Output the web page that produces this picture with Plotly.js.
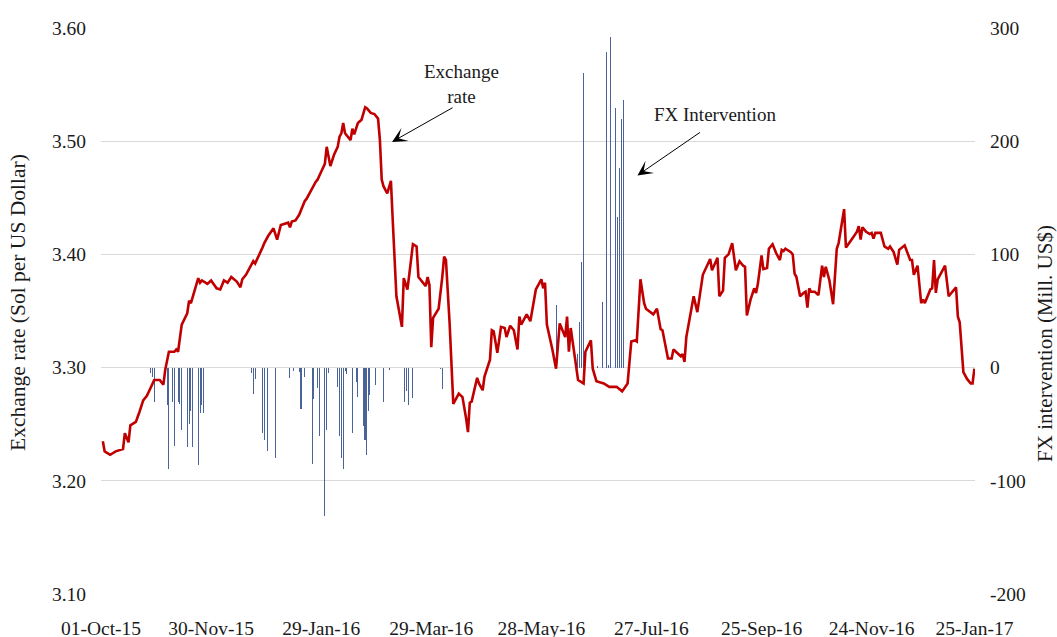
<!DOCTYPE html>
<html>
<head>
<meta charset="utf-8">
<script src="https://cdn.plot.ly/plotly-3.0.1.min.js"></script>
<style>
html,body{margin:0;padding:0;background:#fff;}
#chart{width:1057px;height:637px;}
</style>
</head>
<body>
<div id="chart"></div>
<script>
// Exchange rate (Sol per US Dollar)
var rateDates = [
"2015-10-02","2015-10-03","2015-10-06","2015-10-09","2015-10-13","2015-10-14","2015-10-16","2015-10-17","2015-10-20","2015-10-22",
"2015-10-24","2015-10-26","2015-10-28","2015-10-30","2015-11-02","2015-11-04","2015-11-05","2015-11-07","2015-11-10","2015-11-11",
"2015-11-12","2015-11-14","2015-11-17","2015-11-18","2015-11-19","2015-11-23","2015-11-24","2015-11-25","2015-11-28","2015-11-30",
"2015-12-03","2015-12-05","2015-12-07","2015-12-09","2015-12-11","2015-12-14","2015-12-16","2015-12-17","2015-12-19","2015-12-23",
"2015-12-24","2015-12-28","2015-12-29","2015-12-31","2016-01-03","2016-01-05","2016-01-07","2016-01-11","2016-01-12","2016-01-13",
"2016-01-15","2016-01-17","2016-01-20","2016-01-21","2016-01-26","2016-01-27","2016-01-29","2016-01-31","2016-02-01","2016-02-03",
"2016-02-05","2016-02-07","2016-02-08","2016-02-09","2016-02-10","2016-02-11","2016-02-14","2016-02-15","2016-02-16","2016-02-18",
"2016-02-20","2016-02-22","2016-02-23","2016-02-25","2016-02-27","2016-02-29","2016-03-01","2016-03-02","2016-03-03","2016-03-05",
"2016-03-07","2016-03-08","2016-03-10","2016-03-13","2016-03-14","2016-03-16","2016-03-17","2016-03-19","2016-03-21","2016-03-22",
"2016-03-26","2016-03-27","2016-03-28","2016-03-29","2016-03-30","2016-04-02","2016-04-04","2016-04-05","2016-04-06","2016-04-08",
"2016-04-10","2016-04-13","2016-04-15","2016-04-17","2016-04-18","2016-04-19","2016-04-20","2016-04-23","2016-04-24","2016-04-26",
"2016-04-27","2016-04-30","2016-05-01","2016-05-02","2016-05-04","2016-05-06","2016-05-08","2016-05-09","2016-05-11","2016-05-13",
"2016-05-15","2016-05-16","2016-05-17","2016-05-20","2016-05-22","2016-05-25","2016-05-28","2016-05-29","2016-05-30","2016-05-31",
"2016-06-03","2016-06-05","2016-06-07","2016-06-10","2016-06-11","2016-06-12","2016-06-13","2016-06-17","2016-06-20","2016-06-21",
"2016-06-24","2016-06-25","2016-06-27","2016-07-01","2016-07-04","2016-07-08","2016-07-11","2016-07-14","2016-07-16","2016-07-18",
"2016-07-19","2016-07-21","2016-07-23","2016-07-24","2016-07-28","2016-07-30","2016-08-01","2016-08-02","2016-08-05","2016-08-07",
"2016-08-08","2016-08-12","2016-08-13","2016-08-14","2016-08-15","2016-08-19","2016-08-21","2016-08-24","2016-08-28","2016-08-29",
"2016-09-01","2016-09-02","2016-09-04","2016-09-05","2016-09-07","2016-09-09","2016-09-11","2016-09-13","2016-09-15","2016-09-16",
"2016-09-17","2016-09-19","2016-09-21","2016-09-22","2016-09-23","2016-09-25","2016-09-26","2016-09-28","2016-09-29","2016-10-01",
"2016-10-03","2016-10-05","2016-10-06","2016-10-07","2016-10-08","2016-10-11","2016-10-12","2016-10-13","2016-10-14","2016-10-16",
"2016-10-18","2016-10-19","2016-10-20","2016-10-21","2016-10-22","2016-10-24","2016-10-26","2016-10-28","2016-10-29","2016-10-30",
"2016-11-01","2016-11-03","2016-11-05","2016-11-06","2016-11-09","2016-11-10","2016-11-13","2016-11-16","2016-11-17","2016-11-18",
"2016-11-19","2016-11-21","2016-11-23","2016-11-24","2016-11-25","2016-11-26","2016-11-29","2016-12-01","2016-12-03","2016-12-04",
"2016-12-06","2016-12-08","2016-12-09","2016-12-12","2016-12-15","2016-12-16","2016-12-17","2016-12-19","2016-12-21","2016-12-22",
"2016-12-23","2016-12-26","2016-12-27","2016-12-28","2016-12-29","2016-12-30","2017-01-03","2017-01-05","2017-01-09","2017-01-10",
"2017-01-11","2017-01-13","2017-01-15","2017-01-17","2017-01-18","2017-01-19"
];
var rateValues = [
3.235,3.226,3.223,3.226,3.228,3.242,3.234,3.249,3.252,3.261,
3.271,3.275,3.282,3.289,3.289,3.285,3.298,3.314,3.314,3.316,
3.314,3.338,3.348,3.359,3.357,3.379,3.375,3.377,3.374,3.377,
3.370,3.369,3.377,3.375,3.380,3.376,3.371,3.378,3.382,3.394,
3.392,3.406,3.410,3.416,3.423,3.413,3.426,3.428,3.424,3.429,
3.430,3.435,3.447,3.449,3.464,3.466,3.473,3.480,3.495,3.478,
3.488,3.495,3.504,3.507,3.516,3.507,3.501,3.511,3.506,3.516,
3.519,3.530,3.529,3.525,3.524,3.520,3.501,3.466,3.460,3.454,
3.465,3.430,3.363,3.336,3.379,3.369,3.382,3.409,3.407,3.380,
3.372,3.380,3.373,3.318,3.344,3.352,3.380,3.398,3.395,3.339,
3.268,3.277,3.274,3.255,3.243,3.269,3.270,3.291,3.286,3.280,
3.292,3.307,3.333,3.332,3.313,3.336,3.335,3.327,3.337,3.333,
3.316,3.345,3.338,3.347,3.341,3.369,3.378,3.370,3.375,3.338,
3.316,3.299,3.339,3.327,3.345,3.314,3.335,3.289,3.286,3.314,
3.324,3.299,3.288,3.286,3.283,3.283,3.279,3.286,3.323,3.324,
3.323,3.378,3.357,3.352,3.347,3.352,3.334,3.333,3.308,3.308,
3.316,3.310,3.312,3.305,3.327,3.363,3.349,3.382,3.396,3.386,
3.397,3.363,3.368,3.397,3.400,3.410,3.386,3.394,3.390,3.389,
3.346,3.360,3.370,3.366,3.374,3.399,3.387,3.388,3.405,3.409,
3.401,3.395,3.404,3.403,3.405,3.402,3.400,3.383,3.380,3.363,
3.366,3.367,3.353,3.370,3.367,3.367,3.364,3.390,3.380,3.389,
3.377,3.356,3.405,3.410,3.440,3.406,3.413,3.420,3.425,3.413,
3.424,3.420,3.418,3.419,3.414,3.419,3.419,3.407,3.405,3.407,
3.402,3.391,3.404,3.408,3.395,3.395,3.382,3.390,3.357,3.360,
3.357,3.369,3.370,3.395,3.366,3.378,3.390,3.363,3.371,3.345,
3.340,3.296,3.290,3.286,3.286,3.299
];

// FX intervention (Mill. US$)
var fxDates = [
"2015-10-28","2015-10-29","2015-10-30","2015-11-06","2015-11-07","2015-11-09","2015-11-10","2015-11-12","2015-11-13","2015-11-14",
"2015-11-17","2015-11-18","2015-11-19","2015-11-20","2015-11-23","2015-11-24","2015-11-25","2015-11-26",
"2015-12-22","2015-12-23","2015-12-24","2015-12-28","2015-12-29","2015-12-31","2016-01-04","2016-01-12","2016-01-14","2016-01-17",
"2016-01-18","2016-01-20","2016-01-24","2016-01-25","2016-01-27","2016-01-28","2016-01-31","2016-02-01","2016-02-02","2016-02-07",
"2016-02-08","2016-02-09","2016-02-10","2016-02-11","2016-02-12","2016-02-15","2016-02-17","2016-02-18","2016-02-21 00:00","2016-02-21 12:00",
"2016-02-22 06:00","2016-02-22 18:00","2016-02-23 16:00","2016-02-24 14:00","2016-02-27 18:00","2016-03-02 19:00","2016-03-06 12:00","2016-03-14 12:00","2016-03-15 14:00","2016-03-16 12:00",
"2016-03-19","2016-04-03","2016-04-04",
"2016-06-05","2016-06-16 17:00","2016-06-17 17:00","2016-06-18 17:00","2016-06-19 19:00","2016-06-27 17:00","2016-06-30 14:00","2016-07-02 10:00","2016-07-03 12:00","2016-07-04 12:00",
"2016-07-07 07:00","2016-07-08 09:00","2016-07-09 10:00","2016-07-10 16:00","2016-07-11 12:00"
];
var fxValues = [
-5,-8,-30,-33,-90,-30,-69,-30,-32,-55,
-70,-50,-38,-70,-86,-40,-33,-40,
-5,-23,-10,-58,-64,-74,-80,-9,-3,-4,
-37,-8,-85,-28,-18,-60,-131,-55,-5,-17,
-60,-80,-90,-3,-6,-58,-13,-26,-52,-64,
-64,-77,-38,-24,-15,-30,-2,-30,-21,-33,
-27,-1,-19,
55,12,40,93,260,1,58,279,2,292,
229,133,176,220,236
];

// Axis tick labels
var xTickDates = ["2015-10-01","2015-11-30","2016-01-29","2016-03-29","2016-05-28","2016-07-27","2016-09-25","2016-11-24","2017-01-19"];
var xTickLabels = ["01-Oct-15","30-Nov-15","29-Jan-16","29-Mar-16","28-May-16","27-Jul-16","25-Sep-16","24-Nov-16","25-Jan-17"];
var leftTickVals = [3.10,3.20,3.30,3.40,3.50,3.60];
var rightTickVals = [-200,-100,0,100,200,300];

var FONT = "Liberation Serif, Times New Roman, serif";
var TXT = "#1a1a1a";

var traces = [
  {
    type: "bar",
    name: "FX Intervention",
    x: fxDates,
    y: fxValues,
    xaxis: "x",
    yaxis: "y",
    width: 0.55 * 86400000,
    marker: {color: "#4A6399", line: {width: 0}},
    hoverinfo: "x+y"
  },
  {
    type: "scatter",
    mode: "lines",
    name: "Exchange rate",
    x: rateDates,
    y: rateValues,
    xaxis: "x",
    yaxis: "y2",
    line: {color: "#C00000", width: 2.6, simplify: false}
  }
];

var layout = {
  width: 1057,
  height: 637,
  margin: {l: 101, r: 82, t: 28, b: 43, pad: 0},
  paper_bgcolor: "#ffffff",
  plot_bgcolor: "#ffffff",
  showlegend: false,
  bargap: 0,
  font: {family: FONT, size: 18, color: TXT},
  xaxis: {
    type: "date",
    range: ["2015-10-01", "2017-01-19 08:00"],
    tickmode: "array",
    tickvals: xTickDates,
    ticktext: xTickLabels,
    showgrid: false,
    zeroline: false,
    showline: false,
    ticks: "",
    ticklabelstandoff: 20,
    tickfont: {family: FONT, size: 19.5, color: TXT}
  },
  yaxis: {
    side: "right",
    range: [-200, 300],
    tickmode: "array",
    tickvals: rightTickVals,
    ticktext: rightTickVals.map(String),
    showgrid: true,
    gridcolor: "#D9D9D9",
    gridwidth: 1,
    zeroline: false,
    showline: false,
    ticks: "",
    ticklabelstandoff: 14,
    tickfont: {family: FONT, size: 19.5, color: TXT}
  },
  yaxis2: {
    side: "left",
    overlaying: "y",
    range: [3.10, 3.60],
    tickmode: "array",
    tickvals: leftTickVals,
    ticktext: leftTickVals.map(function(v){return v.toFixed(2);}),
    showgrid: false,
    zeroline: false,
    showline: false,
    ticks: "",
    ticklabelstandoff: 14,
    tickfont: {family: FONT, size: 19.5, color: TXT}
  },
  annotations: [
    {xref: "paper", yref: "paper", x: -0.095, y: 0.516, xanchor: "center", yanchor: "middle",
     text: "Exchange rate (Sol per US Dollar)", textangle: -90, showarrow: false,
     font: {family: FONT, size: 21.5, color: TXT}},
    {xref: "paper", yref: "paper", x: 1.080, y: 0.4435, xanchor: "center", yanchor: "middle",
     text: "FX intervention (Mill. US$)", textangle: -90, showarrow: false,
     font: {family: FONT, size: 21, color: TXT}},
    {xref: "paper", yref: "paper", x: 0.4119, y: 0.9003, xanchor: "center", yanchor: "middle",
     text: "Exchange<br>rate", showarrow: false, align: "center",
     font: {family: FONT, size: 19, color: TXT}},
    {xref: "paper", yref: "paper", x: 0.7025, y: 0.8473, xanchor: "center", yanchor: "middle",
     text: "FX Intervention", showarrow: false,
     font: {family: FONT, size: 19, color: TXT}},
    {xref: "paper", yref: "paper", x: 0.3330, y: 0.7988, text: "", showarrow: true,
     ax: 62, ay: -35, axref: "pixel", ayref: "pixel",
     arrowhead: 3, arrowsize: 2.5, arrowwidth: 1, arrowcolor: "#000000", standoff: 0},
    {xref: "paper", yref: "paper", x: 0.6138, y: 0.7396, text: "", showarrow: true,
     ax: 64, ay: -44, axref: "pixel", ayref: "pixel",
     arrowhead: 3, arrowsize: 2.5, arrowwidth: 1, arrowcolor: "#000000", standoff: 0}
  ]
};

Plotly.newPlot("chart", traces, layout, {staticPlot: true, displayModeBar: false});
</script>
</body>
</html>
